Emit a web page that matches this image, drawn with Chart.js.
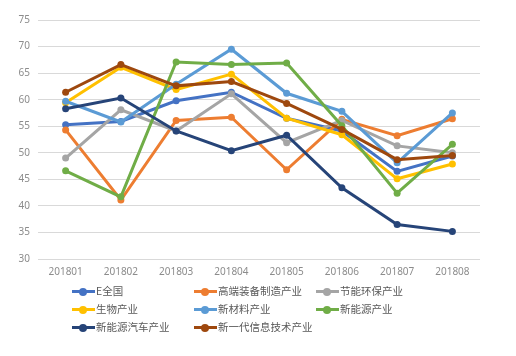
<!DOCTYPE html>
<html><head><meta charset="utf-8">
<script src="https://cdn.jsdelivr.net/npm/chart.js@4"></script>
<style>
html,body{margin:0;padding:0;background:#fff;}
#wrap{position:relative;width:516px;height:356px;}
#legend{position:absolute;left:72px;top:282px;width:440px;font-family:"Noto Sans CJK SC","Noto Sans",sans-serif;font-size:10.5px;color:#595959;}
.item{position:absolute;height:18px;line-height:18px;white-space:nowrap;}
.sym{position:absolute;left:0;top:8px;width:23px;height:3px;}
.dot{position:absolute;left:7px;top:5.5px;width:8px;height:8px;border-radius:50%;}
.lbl{position:absolute;left:24px;top:0;}
</style></head>
<body><div id="wrap"><canvas id="c" width="516" height="356"></canvas><div id="legend"></div></div>
<script>
const categories = ["201801","201802","201803","201804","201805","201806","201807","201808"];
const seriesNames = ["E全国","高端装备制造产业","节能环保产业","生物产业","新材料产业","新能源产业","新能源汽车产业","新一代信息技术产业"];
const quanguo   = [55.3, 55.9, 59.8, 61.4, 56.5, 54.1, 46.5, 49.4];
const gaoduan   = [54.3, 41.1, 56.1, 56.7, 46.8, 56.3, 53.2, 56.4];
const jieneng   = [49.0, 58.1, 54.1, 61.1, 51.9, 56.1, 51.3, 50.0];
const shengwu   = [59.4, 66.1, 61.9, 64.8, 56.5, 53.4, 45.1, 47.9];
const xincailiao= [59.7, 55.8, 62.9, 69.5, 61.2, 57.8, 48.1, 57.5];
const xinnengyuan=[46.6, 41.7, 67.1, 66.6, 66.9, 55.1, 42.4, 51.6];
const qiche     = [58.3, 60.3, 54.1, 50.4, 53.3, 43.4, 36.5, 35.2];
const xinxi     = [61.4, 66.6, 62.6, 63.4, 59.3, 54.4, 48.7, 49.5];
const yTicks = [30,35,40,45,50,55,60,65,70,75];

const values = [quanguo,gaoduan,jieneng,shengwu,xincailiao,xinnengyuan,qiche,xinxi];
const colors = ["#4472C4","#ED7D31","#A5A5A5","#FFC000","#5B9BD5","#70AD47","#264478","#9E480E"];

const datasets = seriesNames.map((n,i)=>({
  label:n, data:values[i], borderColor:colors[i], backgroundColor:colors[i],
  borderWidth:3, pointRadius:3.5, pointHoverRadius:3.5, pointBorderWidth:0,
  tension:0, fill:false, order: values.length - i
}));

new Chart(document.getElementById('c'),{
  type:'line',
  data:{labels:categories, datasets},
  options:{
    responsive:false, animation:false,
    layout:{padding:{top:20,right:36,left:0,bottom:0}},
    plugins:{legend:{display:false},tooltip:{enabled:false}},
    scales:{
      x:{
        offset:true,
        grid:{display:false,drawTicks:false}, border:{display:false},
        ticks:{color:"#8C8C8C",font:{family:"'Noto Sans','DejaVu Sans',sans-serif",size:10},padding:7,maxRotation:0},
        afterFit:(s)=>{s.height=97;}
      },
      y:{
        min:30,max:75,
        afterBuildTicks:(s)=>{s.ticks=yTicks.map(v=>({value:v}));},
        grid:{color:"#D9D9D9",lineWidth:1,drawTicks:false}, border:{display:false},
        ticks:{color:"#8C8C8C",font:{family:"'Noto Sans','DejaVu Sans',sans-serif",size:10},padding:8},
        afterFit:(s)=>{s.width=38;}
      }
    }
  }
});

const lg = document.getElementById('legend');
const colX=[0,122,244];
seriesNames.forEach((n,i)=>{
  const d=document.createElement('div'); d.className='item';
  d.style.left=colX[i%3]+'px'; d.style.top=(Math.floor(i/3)*18)+'px';
  d.innerHTML='<span class="sym" style="background:'+colors[i]+'"></span><span class="dot" style="background:'+colors[i]+'"></span><span class="lbl"></span>';
  d.querySelector('.lbl').textContent=n;
  lg.appendChild(d);
});
</script></body></html>
